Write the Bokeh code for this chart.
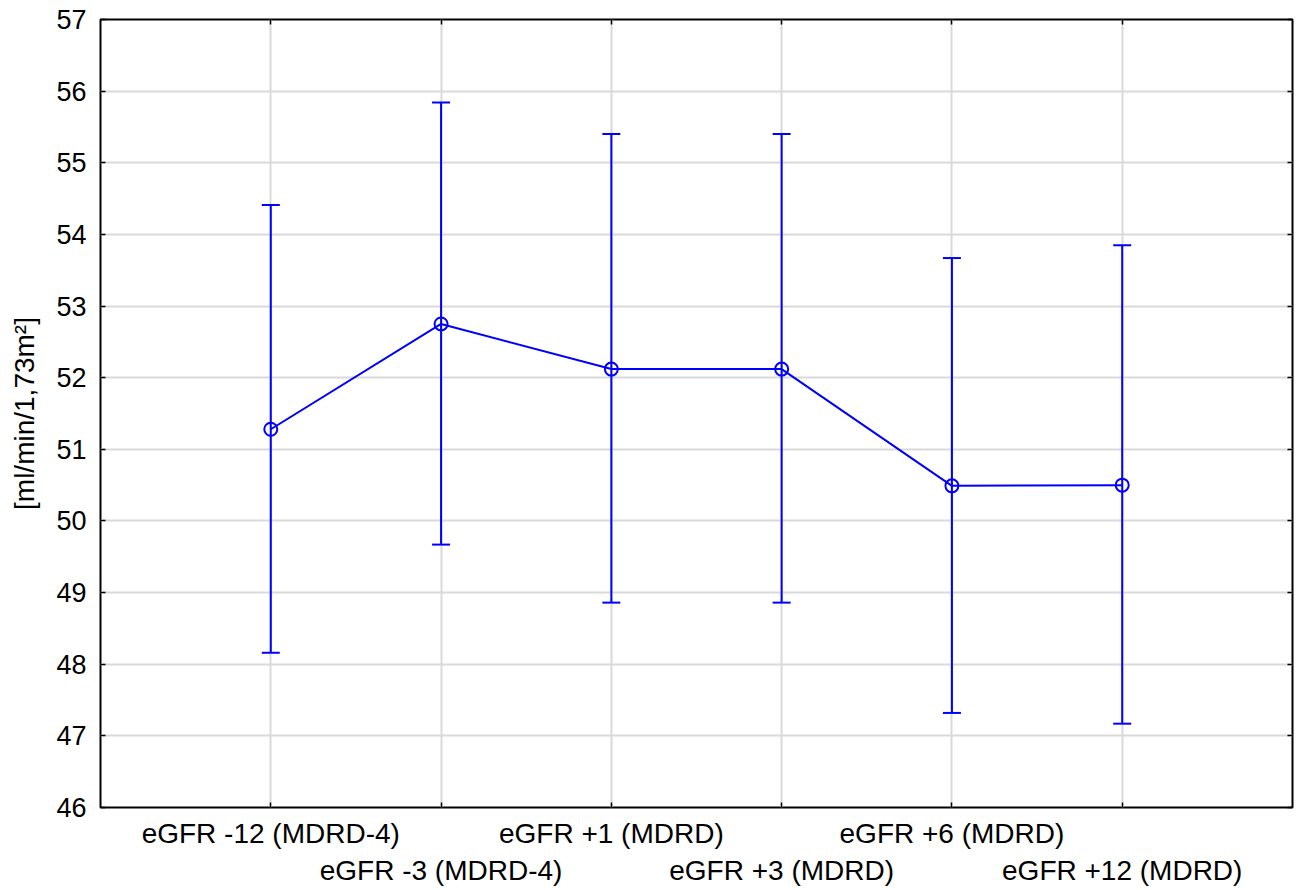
from bokeh.plotting import figure
from bokeh.models import Whisker, TeeHead, ColumnDataSource, FixedTicker, LinearAxis, Range1d
from bokeh.embed import file_html
from bokeh.resources import INLINE

categories = ["eGFR -12 (MDRD-4)", "eGFR -3 (MDRD-4)", "eGFR +1 (MDRD)",
              "eGFR +3 (MDRD)", "eGFR +6 (MDRD)", "eGFR +12 (MDRD)"]
positions = [1, 2, 3, 4, 5, 6]
means = [51.28, 52.75, 52.12, 52.12, 50.49, 50.50]
upper = [54.41, 55.84, 55.40, 55.40, 53.67, 53.85]
lower = [48.16, 49.67, 48.86, 48.86, 47.32, 47.17]
y_ticks = list(range(46, 58))
y_label = "[ml/min/1,73m²]"

FONT = "Liberation Sans"
BLUE = "#0000ff"

p = figure(width=1297, height=890, x_range=Range1d(0, 7), y_range=Range1d(46, 57),
           output_backend="svg", toolbar_location=None,
           min_border_left=100, min_border_right=5, min_border_top=19, min_border_bottom=83)

p.background_fill_color = "white"
p.border_fill_color = "white"
p.outline_line_color = "black"
p.outline_line_width = 2

p.xaxis.ticker = FixedTicker(ticks=positions)
p.xaxis.major_label_overrides = {pos: ("\n" if i % 2 else "") + c
                                 for i, (pos, c) in enumerate(zip(positions, categories))}
p.yaxis.ticker = FixedTicker(ticks=y_ticks)
p.yaxis.axis_label = y_label

for ax in [p.xaxis[0], p.yaxis[0]]:
    ax.axis_line_color = None
    ax.major_tick_in = 5
    ax.major_tick_out = 0
    ax.major_tick_line_color = "black"
    ax.major_tick_line_width = 1.5
    ax.minor_tick_line_color = None
    ax.major_label_text_font = FONT
    ax.major_label_text_font_size = "27px"
    ax.major_label_text_color = "black"
    ax.axis_label_text_font = FONT
    ax.axis_label_text_font_size = "28px"
    ax.axis_label_text_font_style = "normal"
    ax.axis_label_text_color = "black"

p.xaxis.major_label_text_font_size = "28px"
p.yaxis.major_label_standoff = 14
p.yaxis.axis_label_standoff = 13
p.xaxis.major_label_standoff = 10

# inner ticks on top and right edges (labels not drawn)
top_ax = LinearAxis(ticker=FixedTicker(ticks=positions))
right_ax = LinearAxis(ticker=FixedTicker(ticks=y_ticks))
for ax in [top_ax, right_ax]:
    ax.axis_line_color = None
    ax.major_tick_in = 5
    ax.major_tick_out = 0
    ax.major_tick_line_color = "black"
    ax.major_tick_line_width = 1.5
    ax.minor_tick_line_color = None
    ax.major_label_text_font_size = "1px"
    ax.major_label_text_color = None
    ax.major_label_standoff = 0
p.add_layout(top_ax, "above")
p.add_layout(right_ax, "right")

p.xgrid.ticker = FixedTicker(ticks=positions)
p.ygrid.ticker = FixedTicker(ticks=y_ticks)
p.grid.grid_line_color = "#d9d9d9"
p.grid.grid_line_width = 2

src = ColumnDataSource(dict(x=positions, mean=means, upper=upper, lower=lower))

p.line("x", "mean", source=src, line_color=BLUE, line_width=2)
p.add_layout(Whisker(source=src, base="x", upper="upper", lower="lower", dimension="height",
                     line_color=BLUE, line_width=2,
                     upper_head=TeeHead(size=18, line_color=BLUE, line_width=2),
                     lower_head=TeeHead(size=18, line_color=BLUE, line_width=2)))
p.scatter("x", "mean", source=src, marker="circle", size=13, fill_color=None,
          line_color=BLUE, line_width=2)

open("out.html", "w").write(file_html(p, INLINE))
